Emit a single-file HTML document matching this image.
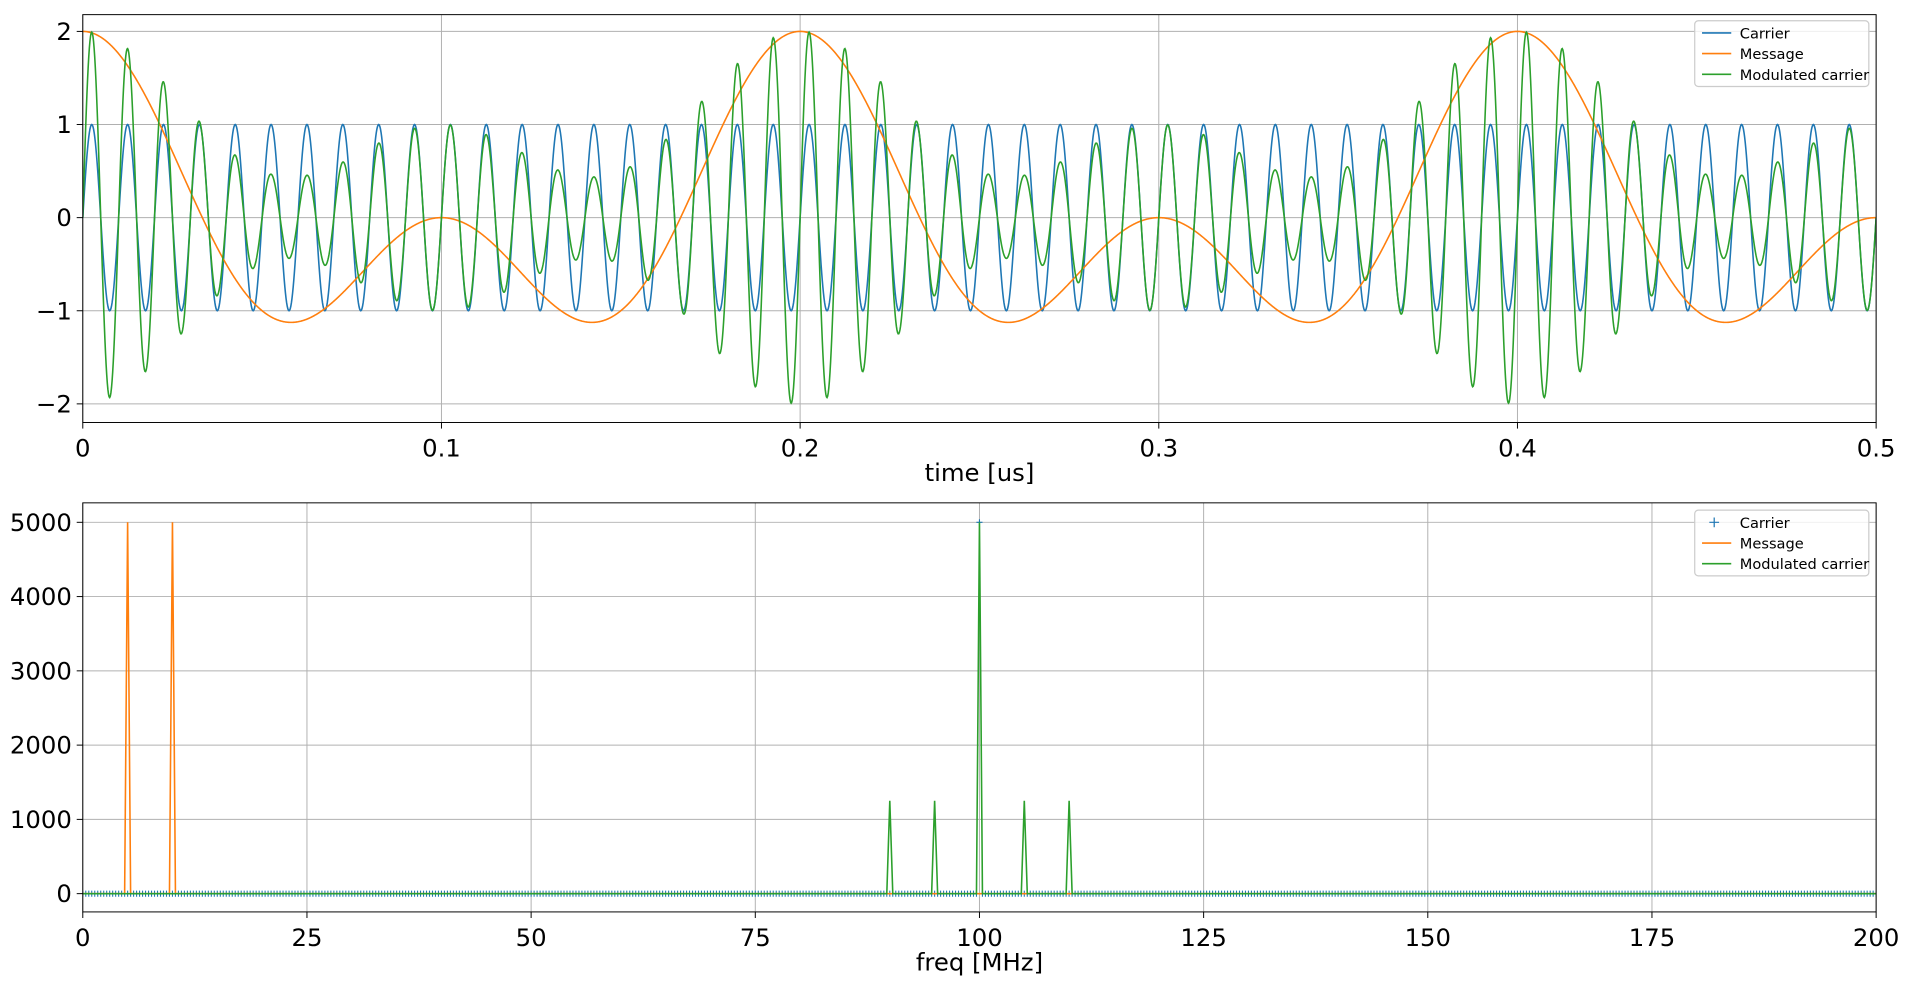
<!DOCTYPE html>
<html><head><meta charset="utf-8"><style>
body{margin:0;background:#fff;overflow:hidden;}
svg{display:block;font-family:"DejaVu Sans","Liberation Sans",sans-serif;}
</style></head><body>
<svg id="c" width="1909" height="985" viewBox="0 0 1568 809"></svg>
<script>
// ---- data ----
const carrierFreq = [100];           // MHz
const messageFreqs = [5, 10];        // MHz
const messageAmps = [1, 1];
const modIndex = [0.5, 0.5];
const timeTicks = [0, 0.1, 0.2, 0.3, 0.4, 0.5];
const ampTicks = [2, 1, 0, -1, -2];
const freqTicks = [0, 25, 50, 75, 100, 125, 150, 175, 200];
const magTicks = [0, 1000, 2000, 3000, 4000, 5000];
const carrierSpecFreq = [100];
const carrierSpecMag = [5000];
const messageSpecFreq = [5, 10];
const messageSpecMag = [5000, 5000];
const modSpecFreq = [90, 95, 100, 105, 110];
const modSpecMag = [1250, 1250, 5000, 1250, 1250];
const binWidth = [1/3];

const NS='http://www.w3.org/2000/svg';
const svg=document.getElementById('c');
function el(tag,attrs,parent){const e=document.createElementNS(NS,tag);for(const k in attrs)e.setAttribute(k,attrs[k]);(parent||svg).appendChild(e);return e;}
const C1='#1f77b4',C2='#ff7f0e',C3='#2ca02c';
const L=68,R=1541;

function axes(top,bot,xmin,xmax,ymin,ymax,xt,yt,xlabel,name){
  const g=el('g',{});
  
  
  const sx=v=>L+(v-xmin)/(xmax-xmin)*(R-L);
  const sy=v=>bot-(v-ymin)/(ymax-ymin)*(bot-top);
  xt.forEach(v=>{
    const l=el('line',{x1:sx(v),x2:sx(v),y1:top,y2:bot,stroke:'#b0b0b0','stroke-width':0.8},g);
    
    
    el('line',{x1:sx(v),x2:sx(v),y1:bot,y2:bot+5,stroke:'#000','stroke-width':0.8},g);
    const t=el('text',{x:sx(v),y:bot+28,'font-size':20,'text-anchor':'middle'},g);
    t.textContent=String(v);
    
    
  });
  yt.forEach(v=>{
    const l=el('line',{x1:L,x2:R,y1:sy(v),y2:sy(v),stroke:'#b0b0b0','stroke-width':0.8},g);
    
    
    el('line',{x1:L-5,x2:L,y1:sy(v),y2:sy(v),stroke:'#000','stroke-width':0.8},g);
    const t=el('text',{x:L-9,y:sy(v)+7,'font-size':20,'text-anchor':'end'},g);
    t.textContent=String(v).replace('-','\u2212');
    
    
  });
  const xl=el('text',{x:(L+R)/2,y:bot+48,'font-size':20,'text-anchor':'middle'},g);
  xl.textContent=xlabel;
  
  
  const clipId='clip'+name;
  const cp=el('clipPath',{id:clipId},g);
  el('rect',{x:L,y:top,width:R-L,height:bot-top},cp);
  const plot=el('g',{'clip-path':'url(#'+clipId+')'},g);
  return {g,sx,sy,plot,frame:()=>{const f=el('rect',{x:L,y:top,width:R-L,height:bot-top,fill:'none',stroke:'#000','stroke-width':0.8},g);}};
}

function legend(x,y,items,name){
  const g=el('g',{});
  
  
  el('rect',{x:x,y:y,width:143,height:54,rx:3,fill:'#fff','fill-opacity':0.8,stroke:'#ccc','stroke-width':1},g);
  items.forEach((it,i)=>{
    const cy=y+10+i*17;
    if(it.marker){
      el('path',{d:`M${x+16} ${cy-4}V${cy+4}M${x+12} ${cy}H${x+20}`,stroke:it.c,'stroke-width':1},g);
    } else el('line',{x1:x+6,x2:x+30,y1:cy,y2:cy,stroke:it.c,'stroke-width':1.3},g);
    const t=el('text',{x:x+37,y:cy+4.5,'font-size':12},g);
    t.textContent=it.t;
    
    
  });
}

// ---- top: time domain ----
const A=axes(12,347,0,0.5,-2.2,2.18,timeTicks,ampTicks,'time [us]','time-plot');
const N=3000;
function msg(t){let s=0;messageFreqs.forEach((f,i)=>s+=messageAmps[i]*Math.cos(2*Math.PI*f*t));return s;}
function env(t){let s=1;messageFreqs.forEach((f,i)=>s+=modIndex[i]*Math.cos(2*Math.PI*f*t));return s;}
function car(t){return Math.sin(2*Math.PI*carrierFreq[0]*t);}
function pathOf(fn){let d='';for(let i=0;i<=N;i++){const t=0.5*i/N;d+=(i?'L':'M')+A.sx(t).toFixed(2)+' '+A.sy(fn(t)).toFixed(2);}return d;}
[[car,C1,'carrier-line'],[msg,C2,'message-line'],[t=>env(t)*car(t),C3,'modulated-carrier-line']].forEach(([fn,c,n])=>{
  const p=el('path',{d:pathOf(fn),fill:'none',stroke:c,'stroke-width':1.3},A.plot);
  
  
});
A.frame();
legend(1392,17,[{t:'Carrier',c:C1},{t:'Message',c:C2},{t:'Modulated carrier',c:C3}],'time-legend');

// ---- bottom: spectrum ----
const B=axes(413,749,0,200,-246,5262,freqTicks,magTicks,'freq [MHz]','freq-plot');
const bw=binWidth[0];
function specPath(fs,ms){
  let d='M'+B.sx(0)+' '+B.sy(0);
  fs.forEach((f,i)=>{d+='L'+B.sx(f-bw)+' '+B.sy(0)+'L'+B.sx(f)+' '+B.sy(ms[i])+'L'+B.sx(f+bw)+' '+B.sy(0);});
  d+='L'+B.sx(200)+' '+B.sy(0);return d;
}
const cm=el('g',{},B.plot);


let md='';
const nb=Math.round(200/bw);
for(let i=0;i<=nb;i++){
  const f=i*bw;
  const k=carrierSpecFreq.findIndex(cf=>Math.abs(cf-f)<1e-6);const v=k>=0?carrierSpecMag[k]:0;
  const x=B.sx(f),y=B.sy(v);
  md+=`M${(x-2.5).toFixed(2)} ${y}H${(x+2.5).toFixed(2)}M${x.toFixed(2)} ${y-2.5}V${y+2.5}`;
}
el('path',{d:md,stroke:C1,'stroke-width':0.9,fill:'none'},cm);
const mp=el('path',{d:specPath(messageSpecFreq,messageSpecMag),fill:'none',stroke:C2,'stroke-width':1.3},B.plot);


const gp=el('path',{d:specPath(modSpecFreq,modSpecMag),fill:'none',stroke:C3,'stroke-width':1.3},B.plot);


B.frame();
legend(1392,419,[{t:'Carrier',c:C1,marker:true},{t:'Message',c:C2},{t:'Modulated carrier',c:C3}],'freq-legend');
</script>
</body></html>
